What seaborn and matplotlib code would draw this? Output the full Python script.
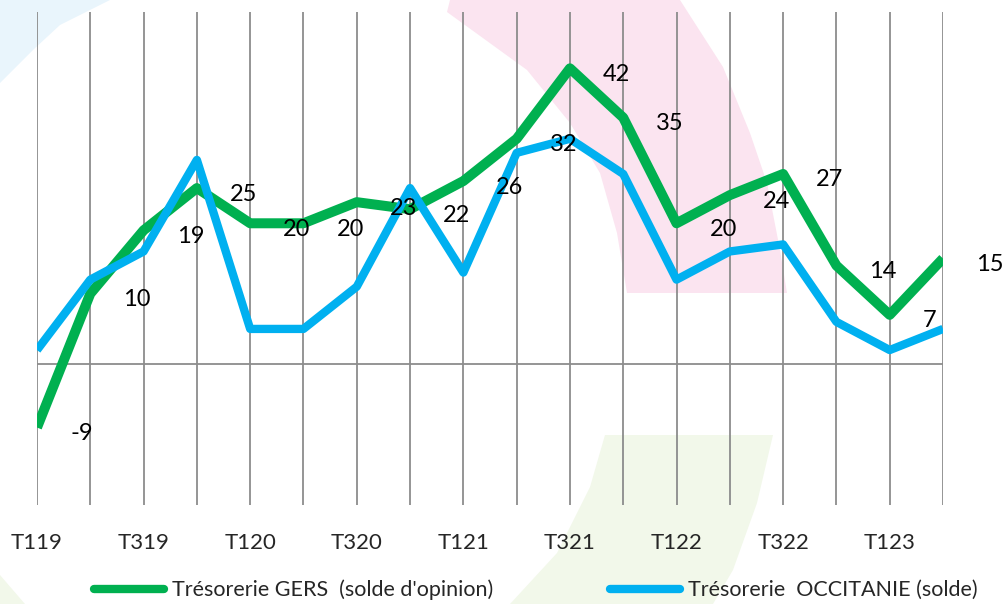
import pandas as pd
import matplotlib.pyplot as plt
import matplotlib.patches as mpatches
import seaborn as sns

# Couleurs (palette Excel)
GERS_COLOR = "#00B050"
OCCITANIE_COLOR = "#00B0F0"
GRID_COLOR = "#8C8C8C"

# Données
trimestres = ["T119", "T219", "T319", "T419", "T120", "T220", "T320", "T420", "T121",
              "T221", "T321", "T421", "T122", "T222", "T322", "T422", "T123", "T223"]
gers = [-9, 10, 19, 25, 20, 20, 23, 22, 26, 32, 42, 35, 20, 24, 27, 14, 7, 15]
occitanie = [2, 12, 16, 29, 5, 5, 11, 25, 13, 30, 32, 27, 12, 16, 17, 6, 2, 5]
tick_labels = ["T119", "", "T319", "", "T120", "", "T320", "", "T121",
               "", "T321", "", "T122", "", "T322", "", "T123", ""]
serie_gers = "Trésorerie GERS  (solde d'opinion)"
serie_occ = "Trésorerie  OCCITANIE (solde)"

df = pd.concat([
    pd.DataFrame({"trimestre": trimestres, "solde": gers, "serie": serie_gers}),
    pd.DataFrame({"trimestre": trimestres, "solde": occitanie, "serie": serie_occ}),
])

sns.set_style("white")
plt.rcParams['font.family'] = ['Lato', 'DejaVu Sans']

W, H = 1007, 604
fig = plt.figure(figsize=(W / 100, H / 100), dpi=100)

# Formes décoratives en arrière-plan (coordonnées en pixels)
bg = fig.add_axes([0, 0, 1, 1], zorder=0)
bg.set_xlim(0, W)
bg.set_ylim(H, 0)
bg.axis("off")
bg.add_patch(mpatches.Polygon([(0, 0), (110, 0), (60, 25), (33, 50), (0, 83)],
                              color="#E9F5FC", lw=0))
bg.add_patch(mpatches.Polygon([(447, 12), (450, 0), (680, 0), (723, 67), (750, 133),
                               (767, 183), (780, 250), (787, 293), (627, 293),
                               (617, 233), (600, 173), (570, 123), (527, 70)],
                              color="#FBE4F0", lw=0))
bg.add_patch(mpatches.Polygon([(605, 435), (773, 435), (757, 503), (733, 570), (713, 604),
                               (510, 604), (557, 553), (590, 487)],
                              color="#F2F8EA", lw=0))
bg.add_patch(mpatches.Polygon([(0, 575), (25, 604), (0, 604)], color="#F2F8EA", lw=0))

ax = fig.add_axes([37 / W, 1 - 505 / H, (943 - 37) / W, (505 - 12) / H], zorder=1)
ax.patch.set_alpha(0)

sns.lineplot(data=df, x="trimestre", y="solde", hue="serie", sort=False,
             palette=[GERS_COLOR, OCCITANIE_COLOR], legend=False, ax=ax)
for line, lw in zip(ax.lines, [7.2, 6.0]):
    line.set_linewidth(lw)
    line.set_solid_capstyle("butt")
    line.set_zorder(3)

# Étiquettes de données (série GERS)
for i, v in enumerate(gers):
    ax.annotate(str(v), (i, v), xytext=(33, -6), textcoords="offset pixels",
                ha="left", va="center", fontsize=17, color="black",
                annotation_clip=False)

ax.set_xlim(0, len(trimestres) - 1)
ax.set_ylim(-20, 50)
ax.set_xticks(range(len(trimestres)))
ax.set_xticklabels(tick_labels, fontsize=16)
ax.set_yticks([])
ax.tick_params(axis="x", length=0, pad=20)
ax.grid(axis="x", color=GRID_COLOR, linewidth=1.3)
ax.axhline(0, color=GRID_COLOR, linewidth=1.3, zorder=2)
for s in ax.spines.values():
    s.set_visible(False)
ax.set_xlabel("")
ax.set_ylabel("")

handles = [plt.Line2D([], [], color=GERS_COLOR, lw=6, solid_capstyle="round"),
           plt.Line2D([], [], color=OCCITANIE_COLOR, lw=6, solid_capstyle="round")]
fig.legend(handles, [serie_gers, serie_occ], loc="center", ncol=2,
           bbox_to_anchor=(536 / W, 1 - 590 / H), frameon=False, fontsize=15.5,
           handlelength=3.25, handletextpad=0.35, columnspacing=5.45, borderaxespad=0)

fig.savefig("out.png", dpi=100)
